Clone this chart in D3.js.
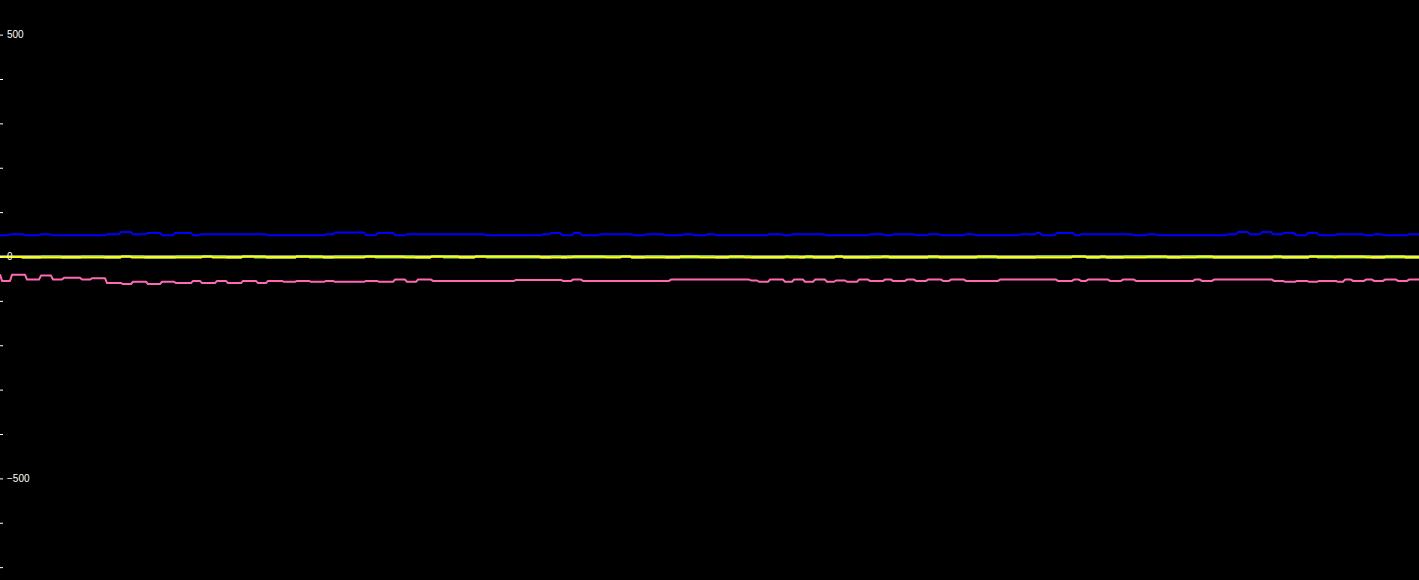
<!DOCTYPE html>
<html>
<head>
<meta charset="utf-8">
<script src="https://cdn.jsdelivr.net/npm/d3@7"></script>
<style>
  html, body { margin: 0; padding: 0; background: #000; overflow: hidden; }
  svg { display: block; }
</style>
</head>
<body>
<svg id="chart" width="1419" height="580"></svg>
<script>
// ---- Data (change-points of each stepped series; t = sample time, v = value) ----
const timeRange = [0, 1419];
const valueRange = [-729, 578];
const tickValues = [-700, -600, -500, -400, -300, -200, -100, 0, 100, 200, 300, 400, 500];
const tickLabels = { "500": "500", "0": "0", "-500": "\u2212500" };

const blueT = [0,10,25,41,52,107,121,133,147,162,175,193,201,268,326,335,366,378,395,407,486,543,551,562,574,582,600,634,646,665,684,694,707,716,769,784,792,826,870,885,894,916,929,941,966,976,1021,1037,1042,1057,1075,1081,1134,1148,1157,1228,1238,1250,1262,1273,1284,1296,1308,1319,1337,1365,1375,1384,1409];
const blueV = [48,50,48,50,48,50,55,50,53,48,53,48,50,48,50,54,48,53,48,50,48,50,53,48,53,48,50,48,50,48,50,48,50,48,50,48,50,48,50,48,50,48,50,48,50,48,50,53,48,53,48,50,48,50,48,50,55,50,55,50,53,48,53,48,50,48,50,48,50];

const pinkT = [0,2,12,27,41,53,64,82,92,107,123,133,148,162,176,193,202,217,228,243,258,268,284,297,311,326,335,366,379,395,407,418,433,516,563,573,583,671,751,759,770,785,794,805,815,827,836,847,859,870,885,893,907,916,928,943,951,966,1000,1058,1074,1081,1088,1110,1123,1136,1195,1202,1214,1274,1285,1297,1309,1319,1338,1345,1353,1366,1374,1385,1398,1409];
const pinkV = [-40,-55,-41,-52,-43,-52,-48,-52,-49,-60,-62,-57,-62,-57,-60,-55,-60,-55,-60,-55,-60,-55,-57,-55,-57,-55,-57,-55,-57,-52,-57,-52,-55,-53,-55,-52,-55,-52,-54,-57,-52,-57,-52,-57,-52,-57,-54,-57,-52,-55,-52,-55,-52,-55,-52,-55,-52,-55,-52,-55,-52,-55,-52,-55,-52,-55,-52,-55,-52,-55,-57,-55,-57,-55,-57,-52,-55,-52,-55,-52,-55,-52];

const whiteT = [0];
const whiteV = [0];

const yellowT = [0,23,122,132,203,213,243,267,297,324,366,405,432,460,476,541,574,606,622,632,681,700,730,745,786,790,806,814,836,844,883,890,929,940,978,998,1073,1087,1101,1107,1148,1168,1198,1214,1274,1283,1310,1334,1338,1366,1386,1406];
const yellowV = [-1,-2.5,0,-2.5,0,-2.5,0,-2.5,0,-2.5,0,-2.5,0,-2.5,0,-2.5,0,-2.5,0,-2.5,0,-2.5,0,-2.5,0,-2.5,0,-2.5,0,-2.5,0,-2.5,0,-2.5,0,-2.5,0,-2.5,0,-2.5,0,-2.5,0,-2.5,0,-2.5,0,-2.5,0,-2.5,0,-2.5];

const greenT = [0,23,42,62,82,105,122,145,177,227,243,255,297,310,335,376,405,416,432,444,476,487,552,562,568,574,606,632,646,666,700,716,745,752,790,800,836,844,871,883,1037,1087,1125,1148,1182,1198,1310,1318,1334,1338,1366,1372];
const greenV = [-1,-2.5,0,-2.5,0,-2.5,0,-2.5,0,-2.5,0,-2.5,0,-2.5,0,-2.5,0,-2.5,0,-2.5,0,-2.5,0,-2.5,0,-2.5,0,-2.5,0,-2.5,0,-2.5,0,-2.5,0,-2.5,0,-2.5,0,-2.5,0,-2.5,0,-2.5,0,-2.5,0,-2.5,0,-2.5,0,-2.5];

// ---- Chart ----
const W = 1419, H = 580;
const svg = d3.select("#chart");
svg.append("rect").attr("width", W).attr("height", H).attr("fill", "#000");

const x = d3.scaleLinear().domain(timeRange).range([0, W]);
const y = d3.scaleLinear().domain(valueRange).range([H, 0]);

// Step line whose risers are slightly slanted (line style only; values unchanged)
const riser = 2; // in time units
function stepPoints(T, V) {
  const pts = [];
  T.forEach((t, i) => {
    if (i > 0) pts.push([Math.max(T[i - 1], t - riser), V[i - 1]]);
    pts.push([t, V[i]]);
  });
  pts.push([timeRange[1], V[V.length - 1]]);
  return pts;
}

const line = d3.line()
  .x(d => x(d[0]))
  .y(d => y(d[1]))
  .curve(d3.curveLinear);

const series = [
  { T: whiteT,  V: whiteV,  color: "#ffffff" },
  { T: greenT,  V: greenV,  color: "#7fdc9a" },
  { T: yellowT, V: yellowV, color: "#ffff00" },
  { T: blueT,   V: blueV,   color: "#0000ff" },
  { T: pinkT,   V: pinkV,   color: "#ff69b4" }
];

svg.append("g").selectAll("path")
  .data(series)
  .join("path")
  .attr("d", s => line(stepPoints(s.T, s.V)))
  .attr("fill", "none")
  .attr("stroke", s => s.color)
  .attr("stroke-width", 2)
  .attr("stroke-linejoin", "round");

const axis = d3.axisRight(y)
  .tickValues(tickValues)
  .tickSize(3)
  .tickPadding(4)
  .tickFormat(d => tickLabels[String(d)] || "");

const ax = svg.append("g").call(axis);
ax.select(".domain").remove();
ax.selectAll(".tick line").attr("stroke", "#fff");
ax.selectAll(".tick text")
  .attr("fill", "#fff")
  .style("font-family", "'Liberation Sans', Arial, sans-serif")
  .style("font-size", "10px");
</script>
</body>
</html>
